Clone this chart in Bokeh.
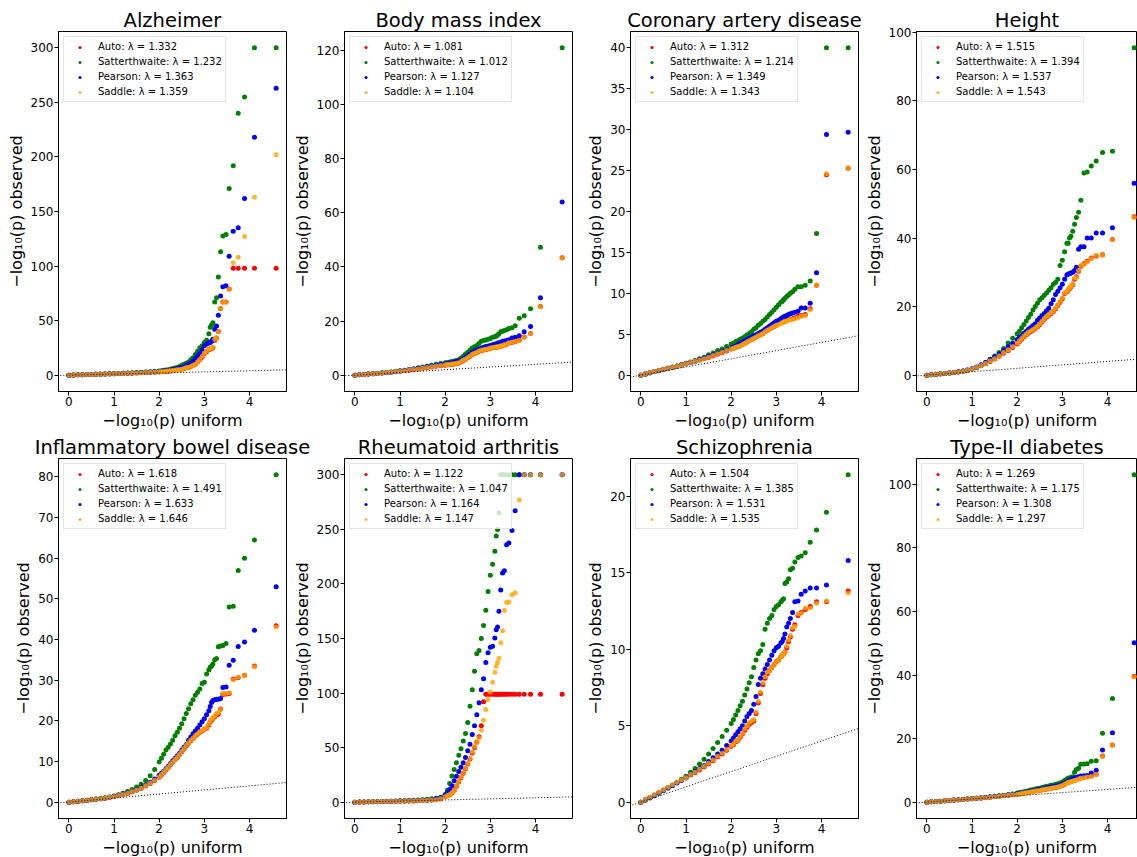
from bokeh.plotting import figure
from bokeh.models import Range1d, SingleIntervalTicker, Slope, Legend, LegendItem
from bokeh.layouts import column, row
from bokeh.embed import file_html
from bokeh.resources import INLINE

# Shared uniform quantiles (-log10 p expected)
X = ([4.59, 4.11, 3.89, 3.75, 3.64, 3.55, 3.48, 3.41, 3.36, 3.31, 3.27, 3.23, 3.19, 3.16, 3.13]
     + [3.10, 3.05, 3.00, 2.95, 2.90, 2.85, 2.80, 2.75, 2.70, 2.65, 2.60, 2.55, 2.50, 2.45, 2.40,
        2.35, 2.30, 2.25, 2.20, 2.15, 2.10, 2.05, 2.00]
     + [1.9, 1.8, 1.7, 1.6, 1.5, 1.4, 1.3, 1.2, 1.1, 1.0, 0.9, 0.8, 0.7, 0.6, 0.5, 0.4, 0.3, 0.2, 0.1, 0.0])

METHODS = ["Auto", "Satterthwaite", "Pearson", "Saddle"]
TITLES = ["Alzheimer", "Body mass index", "Coronary artery disease", "Height",
          "Inflammatory bowel disease", "Rheumatoid arthritis", "Schizophrenia", "Type-II diabetes"]
LAMBDAS = [
    ["1.332", "1.232", "1.363", "1.359"],
    ["1.081", "1.012", "1.127", "1.104"],
    ["1.312", "1.214", "1.349", "1.343"],
    ["1.515", "1.394", "1.537", "1.543"],
    ["1.618", "1.491", "1.633", "1.646"],
    ["1.122", "1.047", "1.164", "1.147"],
    ["1.504", "1.385", "1.531", "1.535"],
    ["1.269", "1.175", "1.308", "1.297"],
]
Y_TICK_STEP = [50, 20, 5, 20, 10, 50, 5, 20]

# ---------------- Alzheimer ----------------
ALZ_AUTO = ([98, 98, 98, 98, 98, 79, 67, 67, 61, 40, 34, 32, 25, 24.5, 24]
            + [23.5, 21.5, 19.5, 16.5, 14, 12, 10, 9, 8, 7, 6.8, 6, 5.4, 5, 4.9, 4.4, 4.1, 3.9, 3.6, 3.4, 3.2, 3.0, 2.9]
            + [2.7, 2.5, 2.3, 2.1, 1.95, 1.8, 1.65, 1.55, 1.4, 1.25, 1.1, 1.0, 0.85, 0.74, 0.62, 0.5, 0.37, 0.25, 0.12, 0.0])
ALZ_SATT = ([300, 300, 255, 240, 192, 171, 129, 127.5, 113, 90, 71, 67, 48, 46, 44]
            + [38, 32, 30, 27, 25, 22, 19, 16, 14, 12, 11, 10, 9, 8, 7, 6.5, 6, 5.5, 5, 4.7, 4.4, 4.1, 3.9]
            + [3.5, 3.2, 2.9, 2.6, 2.4, 2.2, 2.0, 1.8, 1.6, 1.4, 1.25, 1.1, 0.95, 0.8, 0.66, 0.52, 0.39, 0.26, 0.13, 0.0])
ALZ_PEAR = ([263, 218, 162, 135, 132, 109, 82, 81, 72.5, 55, 45, 42, 33, 31, 30]
            + [29.5, 28.5, 27, 23, 20, 18, 15, 13, 11, 10, 9, 8, 7, 6.5, 6, 5.5, 5, 4.6, 4.3, 4, 3.8, 3.6, 3.4]
            + [3.1, 2.9, 2.6, 2.4, 2.2, 2.0, 1.8, 1.7, 1.5, 1.35, 1.2, 1.05, 0.9, 0.78, 0.65, 0.52, 0.39, 0.26, 0.13, 0.0])
ALZ_SADD = ([202, 163, 127, 108, 103, 79, 67, 67, 61, 40, 34, 33, 25.5, 25, 24.5]
            + [24, 22, 20, 17, 14, 12, 10, 9, 8, 7, 7, 6, 5.5, 5, 5, 4.5, 4.2, 4, 3.7, 3.5, 3.3, 3.1, 3.0]
            + [2.8, 2.6, 2.4, 2.2, 2.0, 1.9, 1.7, 1.6, 1.4, 1.3, 1.15, 1.0, 0.9, 0.76, 0.64, 0.51, 0.38, 0.26, 0.13, 0.0])

# ---------------- Body mass index ----------------
BMI_AUTO = ([43.4, 25.4, 15.4, 14.1, 12.9, 12.4, 12.1, 11.9, 11.4, 11.1, 10.9, 10.7, 10.5, 10.4, 10.3]
            + [10.2, 10.1, 9.9, 9.7, 9.5, 9.3, 9.1, 8.8, 8.4, 8.0, 7.6, 7.0, 6.4, 5.9, 5.4, 4.9, 4.5, 4.3, 4.1, 4.0, 3.9, 3.8, 3.7]
            + [3.5, 3.3, 3.0, 2.7, 2.5, 2.2, 2.0, 1.85, 1.6, 1.4, 1.25, 1.05, 0.9, 0.78, 0.63, 0.5, 0.38, 0.26, 0.13, 0.0])
BMI_SATT = ([121, 47.3, 24.5, 22, 21, 18.3, 17.5, 17.2, 16.8, 16.5, 16.2, 16, 15.3, 14.8, 14.5]
            + [14.2, 14, 13.5, 13.3, 13, 12.8, 12.5, 11.8, 11, 10.5, 10, 9.2, 8.5, 7.8, 7, 6.3, 5.7, 5.4, 5.2, 5.0, 4.9, 4.7, 4.6]
            + [4.3, 4.0, 3.7, 3.3, 3.0, 2.7, 2.4, 2.1, 1.8, 1.6, 1.4, 1.2, 1.0, 0.85, 0.7, 0.55, 0.4, 0.27, 0.14, 0.0])
BMI_PEAR = ([64, 28.6, 18, 16, 14.6, 14, 13.7, 13.1, 12.8, 12.6, 12.4, 12.2, 12, 11.8, 11.6]
            + [11.4, 11.2, 11, 10.8, 10.6, 10.3, 10, 9.6, 9.3, 8.9, 8.5, 7.8, 7.2, 6.6, 6, 5.6, 5.2, 5.0, 4.8, 4.6, 4.5, 4.3, 4.2]
            + [4.0, 3.7, 3.4, 3.1, 2.8, 2.5, 2.2, 2.0, 1.7, 1.5, 1.3, 1.1, 0.95, 0.8, 0.65, 0.5, 0.4, 0.27, 0.14, 0.0])
BMI_SADD = ([43.3, 25.3, 15.3, 14, 12.8, 12.5, 12.2, 12, 11.5, 11.2, 11, 10.8, 10.6, 10.5, 10.4]
            + [10.3, 10.2, 10, 9.8, 9.6, 9.4, 9.2, 8.9, 8.5, 8.1, 7.7, 7.1, 6.5, 6, 5.5, 5, 4.6, 4.4, 4.2, 4.1, 4.0, 3.9, 3.8]
            + [3.6, 3.4, 3.1, 2.8, 2.6, 2.3, 2.1, 1.9, 1.65, 1.45, 1.3, 1.1, 0.95, 0.8, 0.65, 0.5, 0.4, 0.27, 0.14, 0.0])

# ---------------- Coronary artery disease ----------------
CAD_AUTO = ([25.3, 24.5, 11.0, 8.1, 7.4, 7.3, 7.2, 7.0, 6.9, 6.8, 6.8, 6.7, 6.6, 6.5, 6.5]
            + [6.4, 6.3, 6.1, 5.95, 5.8, 5.65, 5.5, 5.3, 5.1, 4.95, 4.8, 4.65, 4.5, 4.35, 4.2, 4.05, 3.9, 3.75, 3.6, 3.5, 3.4, 3.3, 3.2]
            + [2.95, 2.75, 2.55, 2.35, 2.15, 2.0, 1.85, 1.7, 1.55, 1.4, 1.25, 1.1, 0.97, 0.85, 0.72, 0.58, 0.45, 0.31, 0.16, 0.0])
CAD_SATT = ([40, 40, 17.3, 11.5, 11.0, 10.8, 10.8, 10.5, 10.2, 10.0, 9.8, 9.6, 9.4, 9.2, 9.0]
            + [8.9, 8.6, 8.3, 8.0, 7.7, 7.4, 7.1, 6.8, 6.6, 6.3, 6.1, 5.8, 5.6, 5.3, 5.1, 4.9, 4.7, 4.5, 4.4, 4.2, 4.1, 3.9, 3.8]
            + [3.5, 3.2, 3.0, 2.7, 2.5, 2.2, 2.0, 1.8, 1.6, 1.45, 1.3, 1.12, 0.97, 0.83, 0.68, 0.54, 0.4, 0.26, 0.12, 0.0])
CAD_PEAR = ([29.7, 29.4, 12.5, 8.8, 8.2, 8.2, 7.8, 7.7, 7.6, 7.5, 7.4, 7.3, 7.2, 7.1, 7.0]
            + [6.9, 6.7, 6.6, 6.4, 6.2, 6.0, 5.8, 5.6, 5.4, 5.25, 5.1, 4.95, 4.8, 4.65, 4.5, 4.35, 4.2, 4.05, 3.9, 3.75, 3.6, 3.45, 3.3]
            + [3.1, 2.9, 2.7, 2.5, 2.3, 2.1, 1.9, 1.7, 1.55, 1.4, 1.25, 1.1, 0.97, 0.84, 0.7, 0.57, 0.43, 0.29, 0.15, 0.0])
CAD_SADD = ([25.3, 24.6, 11.0, 8.0, 7.3, 7.2, 7.0, 6.9, 6.8, 6.8, 6.7, 6.6, 6.6, 6.5, 6.4]
            + [6.3, 6.2, 6.1, 5.95, 5.8, 5.65, 5.5, 5.3, 5.1, 4.95, 4.8, 4.65, 4.5, 4.35, 4.2, 4.05, 3.9, 3.75, 3.6, 3.5, 3.4, 3.3, 3.2]
            + [3.0, 2.8, 2.6, 2.4, 2.2, 2.0, 1.85, 1.7, 1.55, 1.4, 1.25, 1.1, 0.97, 0.85, 0.72, 0.59, 0.45, 0.31, 0.16, 0.0])

# ---------------- Height ----------------
HGT_AUTO = ([46.2, 39.6, 35.1, 34.8, 34.2, 33.2, 32.5, 31.8, 30.3, 28.7, 28.0, 26.4, 25.8, 25.3, 24.8]
            + [24.3, 23.8, 22.3, 21.3, 20.3, 19.4, 18.6, 18.0, 17.5, 17.0, 16.3, 15.5, 14.7, 14.1, 13.6, 13.1, 12.7, 12.3, 11.8, 11.2, 10.5, 9.8, 9.1]
            + [8.1, 7.2, 6.4, 5.5, 4.7, 4.0, 3.3, 2.75, 2.25, 1.78, 1.42, 1.13, 0.93, 0.76, 0.62, 0.49, 0.36, 0.24, 0.12, 0.0])
HGT_SATT = ([95.5, 65.3, 65, 62.5, 61, 59.3, 59, 51, 47.5, 46, 44, 42, 40.5, 40, 38.5]
            + [38.5, 36, 33.5, 32, 28, 27, 26.5, 25.5, 24.8, 24, 23.3, 22.6, 22, 21, 20, 19, 17.8, 16.8, 15.8, 14.8, 13.8, 12.8, 12.1]
            + [10.8, 9.4, 7.8, 6.6, 5.6, 4.6, 3.7, 2.9, 2.3, 1.8, 1.45, 1.2, 1.0, 0.8, 0.65, 0.5, 0.38, 0.25, 0.12, 0.0])
HGT_PEAR = ([56, 43, 41.5, 41.5, 40, 40, 37.5, 37.5, 36.7, 31.5, 30.5, 30, 29.8, 29.6, 29.5]
            + [29.2, 28, 26.5, 25.5, 24.5, 23.5, 22, 20.8, 19.5, 18.8, 18.0, 17.4, 16.7, 16, 15, 14.5, 13.9, 13.4, 12.8, 12.2, 11.5, 11.0, 10.4]
            + [9.3, 8.3, 7.2, 6.2, 5.3, 4.5, 3.7, 3.0, 2.4, 1.9, 1.5, 1.2, 1.0, 0.8, 0.65, 0.5, 0.38, 0.25, 0.12, 0.0])
HGT_SADD = ([46, 39.5, 35, 35, 34, 33, 32.3, 32, 30.5, 28.5, 28.3, 26.5, 26, 25.5, 25]
            + [24.5, 24, 22.5, 21.5, 20.5, 19.6, 18.8, 18.2, 17.7, 17.2, 16.5, 15.7, 14.9, 14.3, 13.8, 13.3, 12.9, 12.5, 12.0, 11.4, 10.7, 10.0, 9.3]
            + [8.3, 7.4, 6.6, 5.6, 4.8, 4.1, 3.4, 2.8, 2.3, 1.8, 1.45, 1.15, 0.95, 0.78, 0.63, 0.5, 0.37, 0.25, 0.12, 0.0])

# ---------------- Inflammatory bowel disease ----------------
IBD_AUTO = ([43.4, 33.5, 31.2, 30.6, 30.3, 26.7, 26.6, 26.5, 22.9, 21.7, 21.5, 21.0, 20.6, 20.2, 19.8]
            + [19.0, 18.2, 17.9, 17.5, 17.2, 16.7, 16.3, 15.7, 15.1, 14.5, 13.9, 13.1, 12.4, 11.7, 11.0, 10.4, 9.8, 9.2, 8.5, 7.9, 7.3, 6.7, 6.1]
            + [5.3, 4.6, 3.95, 3.35, 2.95, 2.55, 2.15, 1.85, 1.62, 1.38, 1.18, 0.98, 0.84, 0.71, 0.57, 0.45, 0.33, 0.22, 0.11, 0.0])
IBD_SATT = ([80.5, 64.5, 60, 57, 48.2, 48, 39, 38.5, 38.4, 38.2, 35.3, 35, 34, 33.5, 33.2]
            + [32.5, 31.5, 29.5, 29.2, 27.8, 27, 26.3, 25.2, 24.2, 23, 21.8, 20.5, 19.3, 18.2, 17.2, 16.3, 15.2, 14.3, 13.5, 12.8, 11.8, 10.8, 9.9]
            + [8.0, 6.5, 5.3, 4.4, 3.7, 3.1, 2.6, 2.2, 1.8, 1.5, 1.25, 1.05, 0.9, 0.75, 0.6, 0.47, 0.35, 0.23, 0.11, 0.0])
IBD_PEAR = ([53, 42.3, 39.4, 38.3, 34.9, 33.7, 28.3, 28.2, 25.5, 25.3, 25.3, 25.2, 25, 24.5, 23.5]
            + [22.5, 21.5, 20.5, 19.8, 19, 18.2, 17.5, 16.8, 16, 15.2, 14.2, 13.5, 12.8, 12, 11.4, 10.8, 10.2, 9.5, 8.8, 8.2, 7.6, 7.1, 6.6]
            + [5.7, 4.9, 4.2, 3.6, 3.1, 2.7, 2.3, 2.0, 1.7, 1.45, 1.2, 1.0, 0.85, 0.72, 0.58, 0.46, 0.34, 0.22, 0.11, 0.0])
IBD_SADD = ([43.1, 33.3, 31.2, 30.7, 30.1, 26.9, 26.8, 26.7, 22.8, 22, 21.8, 21.2, 20.8, 20.4, 20]
            + [19.2, 18.3, 18, 17.6, 17.3, 16.8, 16.4, 15.8, 15.2, 14.6, 14.0, 13.2, 12.5, 11.8, 11.1, 10.5, 9.9, 9.3, 8.6, 8.0, 7.4, 6.8, 6.2]
            + [5.4, 4.7, 4.0, 3.4, 3.0, 2.6, 2.2, 1.9, 1.65, 1.4, 1.2, 1.0, 0.85, 0.72, 0.58, 0.46, 0.34, 0.22, 0.11, 0.0])

# ---------------- Rheumatoid arthritis ----------------
RA_AUTO = ([99, 99, 99, 99, 99, 99, 99, 99, 99, 99, 99, 99, 99, 99, 99]
           + [99, 99, 99, 99, 99, 92, 70, 60, 55, 50, 45, 39.5, 35, 30.5, 26.5, 22.5, 18.5, 14.5, 10.8, 8.3, 6.8, 5.8, 4.9]
           + [2.9, 2.2, 1.85, 1.65, 1.45, 1.3, 1.15, 1.05, 0.95, 0.85, 0.76, 0.67, 0.57, 0.48, 0.4, 0.32, 0.25, 0.16, 0.08, 0.0])
RA_SATT = ([300, 300, 300, 300, 300, 300, 300, 300, 300, 300, 300, 300, 265, 250, 244]
           + [230, 218, 208, 193, 176, 162, 150, 139, 136, 120, 103, 88, 73, 63, 56, 49, 43, 36, 30, 24, 17, 11, 7]
           + [4.5, 3.5, 3.0, 2.6, 2.3, 2.0, 1.8, 1.6, 1.4, 1.2, 1.05, 0.9, 0.75, 0.6, 0.5, 0.4, 0.3, 0.2, 0.1, 0.0])
RA_PEAR = ([300, 300, 300, 300, 300, 267, 249, 237.6, 236, 212, 210, 194.5, 175, 160.6, 158]
           + [150.5, 143, 142, 137, 128, 113, 103, 91, 80, 70, 62, 53, 47, 41, 36, 32, 28, 23.7, 19.5, 15, 11.5, 8.5, 6.5]
           + [4, 3, 2.3, 2.0, 1.8, 1.6, 1.4, 1.25, 1.1, 0.95, 0.85, 0.75, 0.65, 0.55, 0.45, 0.35, 0.27, 0.18, 0.09, 0.0])
RA_SADD = ([300, 300, 300, 300, 277, 192, 190, 183.5, 183, 175.6, 157, 146, 132, 128, 124.5]
           + [119, 110, 101, 94, 85, 75, 66, 59, 55, 51, 46, 40, 35.5, 31, 27, 23, 19, 15, 11, 8.5, 7, 6, 5]
           + [3, 2.3, 1.9, 1.7, 1.5, 1.35, 1.2, 1.1, 1.0, 0.9, 0.8, 0.7, 0.6, 0.5, 0.42, 0.34, 0.26, 0.17, 0.09, 0.0])

# ---------------- Schizophrenia ----------------
SCZ_AUTO = ([13.8, 13.1, 13.1, 12.8, 12.6, 12.4, 12.2, 11.6, 11.3, 10.8, 10.5, 10.1, 9.8, 9.7, 9.6]
            + [9.5, 9.3, 9.2, 9.0, 8.8, 8.6, 8.4, 8.1, 7.7, 7.1, 6.5, 5.8, 5.3, 5.2, 5.1, 4.9, 4.7, 4.45, 4.25, 4.05, 3.95, 3.75, 3.65]
            + [3.4, 3.15, 2.95, 2.7, 2.5, 2.3, 2.1, 1.92, 1.77, 1.58, 1.43, 1.28, 1.11, 0.95, 0.79, 0.63, 0.47, 0.31, 0.15, 0.0])
SCZ_SATT = ([21.4, 18.95, 17.8, 17.0, 16.3, 16.1, 16.0, 15.7, 15.3, 15.2, 14.6, 14.4, 14.3, 13.3, 13.2]
            + [13.1, 12.9, 12.8, 12.6, 12.2, 12.0, 11.7, 11.3, 10.3, 9.9, 9.7, 9.3, 8.8, 8.2, 7.8, 7.4, 7.0, 6.6, 6.3, 6.0, 5.7, 5.4, 5.15]
            + [4.7, 4.3, 3.9, 3.5, 3.15, 2.8, 2.5, 2.2, 1.95, 1.7, 1.5, 1.3, 1.1, 0.92, 0.75, 0.58, 0.42, 0.27, 0.12, 0.0])
SCZ_PEAR = ([15.8, 14.2, 14.0, 14.0, 13.8, 13.6, 13.15, 13.1, 12.4, 12.0, 11.7, 11.45, 11.0, 10.7, 10.5]
            + [10.4, 10.2, 10.1, 9.9, 9.6, 9.3, 9.0, 8.7, 8.4, 8.1, 7.7, 6.9, 6.4, 6.0, 5.8, 5.6, 5.3, 5.0, 4.8, 4.6, 4.4, 4.2, 4.0]
            + [3.7, 3.4, 3.15, 2.9, 2.65, 2.4, 2.2, 2.0, 1.8, 1.6, 1.42, 1.25, 1.08, 0.92, 0.76, 0.6, 0.44, 0.29, 0.14, 0.0])
SCZ_SADD = ([13.67, 13.15, 13.0, 12.7, 12.7, 12.35, 12.3, 11.5, 11.4, 10.9, 10.6, 10.2, 9.8, 9.7, 9.6]
            + [9.5, 9.3, 9.2, 9.0, 8.8, 8.6, 8.5, 8.2, 7.8, 7.2, 6.6, 5.9, 5.4, 5.3, 5.2, 5.0, 4.8, 4.5, 4.3, 4.1, 4.0, 3.8, 3.7]
            + [3.45, 3.2, 3.0, 2.75, 2.55, 2.35, 2.15, 1.95, 1.8, 1.6, 1.45, 1.3, 1.13, 0.97, 0.8, 0.64, 0.48, 0.32, 0.16, 0.0])

# ---------------- Type-II diabetes ----------------
T2D_AUTO = ([39.6, 18.0, 14.5, 8.8, 8.2, 8.0, 7.8, 7.6, 7.4, 7.1, 6.9, 6.7, 6.5, 6.3, 6.2]
            + [6.0, 5.6, 5.2, 5.0, 4.8, 4.6, 4.5, 4.4, 4.2, 4.1, 4.0, 3.9, 3.7, 3.6, 3.5, 3.35, 3.2, 3.1, 2.95, 2.85, 2.7, 2.6, 2.5]
            + [2.3, 2.15, 2.0, 1.85, 1.7, 1.55, 1.4, 1.3, 1.2, 1.08, 0.97, 0.86, 0.75, 0.64, 0.53, 0.42, 0.31, 0.2, 0.1, 0.0])
T2D_SATT = ([103, 32.6, 21.7, 13, 12.9, 12.1, 12.0, 11.9, 10.7, 10.3, 9.4, 8.0, 7.8, 7.6, 7.5]
            + [7.3, 6.8, 6.3, 6.0, 5.8, 5.6, 5.4, 5.3, 5.1, 5.0, 4.8, 4.6, 4.4, 4.3, 4.1, 3.9, 3.8, 3.6, 3.4, 3.3, 3.1, 3.0, 2.85]
            + [2.6, 2.4, 2.2, 2.0, 1.85, 1.7, 1.55, 1.4, 1.25, 1.12, 1.0, 0.88, 0.76, 0.64, 0.53, 0.42, 0.31, 0.2, 0.1, 0.0])
T2D_PEAR = ([50.2, 21.8, 16.4, 10, 9.2, 8.4, 8.3, 8.2, 8.0, 7.8, 7.6, 7.4, 7.2, 7.0, 6.6]
            + [6.4, 6.0, 5.6, 5.4, 5.2, 5.0, 4.9, 4.8, 4.6, 4.5, 4.3, 4.2, 4.0, 3.9, 3.7, 3.6, 3.4, 3.3, 3.1, 3.0, 2.9, 2.75, 2.65]
            + [2.45, 2.25, 2.1, 1.9, 1.75, 1.6, 1.45, 1.3, 1.2, 1.08, 0.97, 0.86, 0.75, 0.64, 0.53, 0.42, 0.31, 0.2, 0.1, 0.0])
T2D_SADD = ([39.5, 17.9, 14.4, 8.7, 8.1, 7.9, 7.7, 7.5, 7.3, 7.0, 6.8, 6.6, 6.5, 6.3, 6.2]
            + [6.0, 5.6, 5.2, 5.0, 4.8, 4.6, 4.5, 4.4, 4.2, 4.1, 4.0, 3.9, 3.7, 3.6, 3.5, 3.35, 3.2, 3.1, 2.95, 2.85, 2.7, 2.6, 2.5]
            + [2.3, 2.15, 2.0, 1.85, 1.7, 1.55, 1.4, 1.3, 1.2, 1.08, 0.97, 0.86, 0.75, 0.64, 0.53, 0.42, 0.31, 0.2, 0.1, 0.0])

PANEL_SERIES = [
    [ALZ_AUTO, ALZ_SATT, ALZ_PEAR, ALZ_SADD],
    [BMI_AUTO, BMI_SATT, BMI_PEAR, BMI_SADD],
    [CAD_AUTO, CAD_SATT, CAD_PEAR, CAD_SADD],
    [HGT_AUTO, HGT_SATT, HGT_PEAR, HGT_SADD],
    [IBD_AUTO, IBD_SATT, IBD_PEAR, IBD_SADD],
    [RA_AUTO, RA_SATT, RA_PEAR, RA_SADD],
    [SCZ_AUTO, SCZ_SATT, SCZ_PEAR, SCZ_SADD],
    [T2D_AUTO, T2D_SATT, T2D_PEAR, T2D_SADD],
]

for k, ser in enumerate(PANEL_SERIES):
    for j, s in enumerate(ser):
        if len(s) != len(X):
            raise ValueError(f"panel {k} series {j}: {len(s)} != {len(X)}")

COLORS = ["#ff0000", "#008000", "#0000ff", "#ffa500"]
ALPHAS = [1.0, 1.0, 1.0, 0.8]
FONT = "DejaVu Sans"
XLABEL = "\u2212log\u2081\u2080(p) uniform"
YLABEL = "\u2212log\u2081\u2080(p) observed"

x_lo, x_hi = min(X), max(X)
x_pad = 0.05 * (x_hi - x_lo)
FULL_W = 228
OVERLAP = 30   # extra canvas on the right so long titles are not cut; next panel overlaps it


def make_panel(k):
    col = k % 4
    fw = 221 if col == 3 else FULL_W
    right = 0 if col == 3 else OVERLAP
    top = 31 if k < 4 else 26
    margin = (0, 0, 0, 0) if col == 0 else (0, 0, 0, -OVERLAP)
    p = figure(frame_width=fw, frame_height=360, output_backend="svg", toolbar_location=None,
               min_border_left=58, min_border_right=right, min_border_top=top, min_border_bottom=40,
               background_fill_color="white", border_fill_color=None, margin=margin,
               title=TITLES[k])
    xs = x_lo - x_pad
    xe = xs + (x_hi + x_pad - xs) * fw / FULL_W
    p.x_range = Range1d(xs, xe)
    allv = [v for s in PANEL_SERIES[k] for v in s]
    lo, hi = min(allv), max(allv)
    pad = 0.05 * (hi - lo)
    p.y_range = Range1d(lo - pad, hi + pad)

    p.title.text_font = FONT
    p.title.text_font_size = "19.5px"
    p.title.text_font_style = "normal"
    p.title.text_color = "black"
    p.title.align = "center"
    p.title.standoff = 0

    p.xgrid.visible = False
    p.ygrid.visible = False
    p.outline_line_color = "black"
    p.outline_line_width = 1
    p.outline_line_alpha = 1.0

    p.xaxis.ticker = SingleIntervalTicker(interval=1, num_minor_ticks=0)
    p.yaxis.ticker = SingleIntervalTicker(interval=Y_TICK_STEP[k], num_minor_ticks=0)
    p.xaxis.axis_label = XLABEL
    p.yaxis.axis_label = YLABEL
    for ax in (p.xaxis[0], p.yaxis[0]):
        ax.axis_label_text_font = FONT
        ax.axis_label_text_font_size = "16px"
        ax.axis_label_text_font_style = "normal"
        ax.axis_label_text_color = "black"
        ax.major_label_text_font = FONT
        ax.major_label_text_font_size = "12px"
        ax.major_label_text_color = "black"
        ax.major_tick_out = 4
        ax.major_tick_in = 0
        ax.minor_tick_line_color = None
        ax.major_tick_line_color = "black"
        ax.axis_line_color = "black"
        ax.major_label_standoff = 1
        ax.axis_label_standoff = 2

    series = PANEL_SERIES[k]
    items = []
    for j, (name, col_c, a) in enumerate(zip(METHODS, COLORS, ALPHAS)):
        r = p.scatter(x=X, y=series[j], size=5, fill_color=col_c, fill_alpha=a, line_color=None)
        items.append(LegendItem(label=f"{name}: \u03bb = {LAMBDAS[k][j]}", renderers=[r]))

    p.add_layout(Slope(gradient=1, y_intercept=0, line_color="black", line_dash="1 2", line_width=1))

    # legend marker size follows the glyph box (0.4 x its smaller side)
    leg = Legend(items=items, location="top_left", margin=5, padding=3, spacing=2,
                 glyph_height=8, glyph_width=25, label_height=13, label_standoff=6,
                 label_text_font=FONT, label_text_font_size="10px", label_text_color="black",
                 border_line_color="#cccccc", border_line_width=1,
                 background_fill_color="white", background_fill_alpha=0.8)
    p.add_layout(leg, "center")
    return p


panels = [make_panel(k) for k in range(8)]
layout = column(row(*panels[:4], spacing=0), row(*panels[4:], spacing=0), spacing=0)

open("out.html", "w").write(file_html(layout, INLINE))
